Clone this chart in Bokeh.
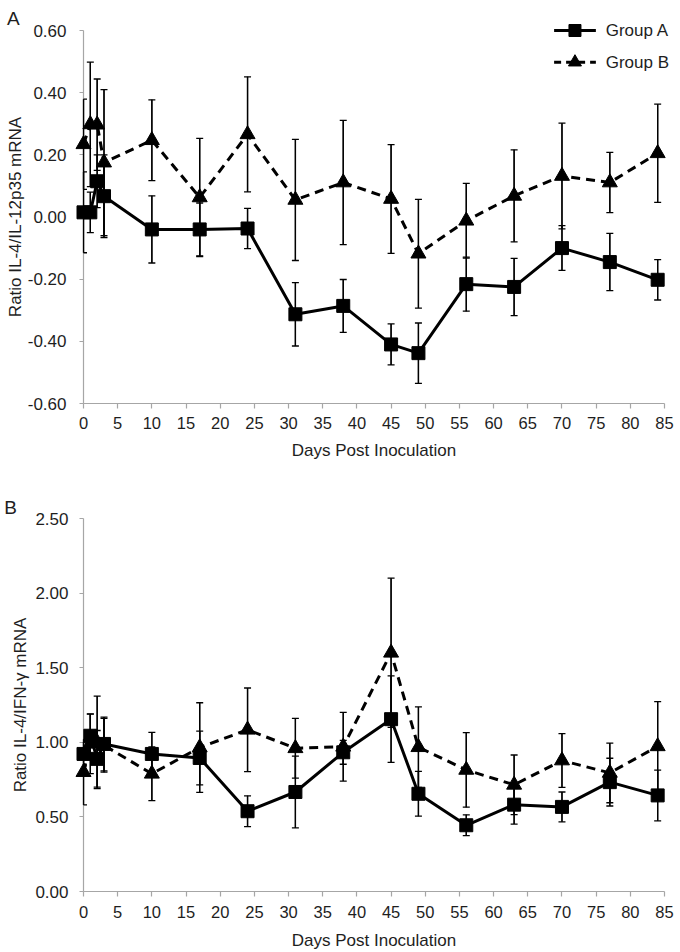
from bokeh.plotting import figure
from bokeh.models import (Range1d, FixedTicker, NumeralTickFormatter, Whisker, TeeHead,
                          ColumnDataSource)
from bokeh.core.properties import value
from bokeh.layouts import column
from bokeh.embed import file_html
from bokeh.resources import INLINE

# ---------------- data ----------------
days = [0, 1, 2, 3, 10, 17, 24, 31, 38, 45, 49, 56, 63, 70, 77, 84]

# Panel A: Ratio IL-4/IL-12p35 mRNA
a_group_a = [0.015, 0.015, 0.115, 0.067, -0.040, -0.040, -0.037, -0.313, -0.286, -0.410,
             -0.438, -0.216, -0.225, -0.100, -0.145, -0.202]
a_group_a_err = [0.13, 0.065, 0.085, 0.133, 0.108, 0.085, 0.065, 0.102, 0.085, 0.066,
                 0.097, 0.087, 0.092, 0.072, 0.092, 0.065]
a_group_b = [0.234, 0.298, 0.297, 0.175, 0.247, 0.063, 0.266, 0.055, 0.111, 0.058,
             -0.118, -0.012, 0.068, 0.132, 0.111, 0.205]
a_group_b_err = [0.145, 0.20, 0.147, 0.235, 0.13, 0.19, 0.185, 0.195, 0.20, 0.175,
                 0.175, 0.12, 0.148, 0.17, 0.097, 0.158]

# Panel B: Ratio IL-4/IFN-gamma mRNA
b_group_a = [0.922, 1.044, 0.889, 0.989, 0.922, 0.895, 0.538, 0.667, 0.933, 1.155,
             0.655, 0.444, 0.582, 0.567, 0.733, 0.644]
b_group_a_err = [0.08, 0.145, 0.19, 0.18, 0.145, 0.18, 0.103, 0.24, 0.08, 0.29,
                 0.15, 0.07, 0.13, 0.10, 0.16, 0.17]
b_group_b = [0.80, 0.99, 1.00, 0.98, 0.789, 0.965, 1.084, 0.96, 0.97, 1.60,
             0.967, 0.815, 0.715, 0.878, 0.795, 0.973]
b_group_b_err = [0.22, 0.20, 0.31, 0.18, 0.18, 0.30, 0.28, 0.20, 0.23, 0.50,
                 0.27, 0.25, 0.20, 0.18, 0.20, 0.30]

x_ticks = list(range(0, 90, 5))
a_y_ticks = [-0.6, -0.4, -0.2, 0.0, 0.2, 0.4, 0.6]
b_y_ticks = [0.0, 0.5, 1.0, 1.5, 2.0, 2.5]
legend_labels = ["Group A", "Group B"]

FONT = "Liberation Sans"
AXIS_GREY = "#a6a6a6"
TEXT = "#1e1e1e"


def style_axes(p, y_ticks, ylabel, y_lab_standoff, y_title_standoff,
               x_lab_standoff, x_title_standoff):
    p.xaxis.ticker = FixedTicker(ticks=x_ticks)
    p.yaxis.ticker = FixedTicker(ticks=y_ticks)
    p.yaxis.formatter = NumeralTickFormatter(format="0.00")
    p.xaxis.axis_label = "Days Post Inoculation"
    p.yaxis.axis_label = ylabel
    for ax in (p.xaxis, p.yaxis):
        ax.axis_line_color = AXIS_GREY
        ax.axis_line_width = 1.2
        ax.major_tick_line_color = AXIS_GREY
        ax.major_tick_line_width = 1.2
        ax.major_tick_in = 0
        ax.minor_tick_line_color = None
        ax.major_label_text_font = FONT
        ax.major_label_text_color = TEXT
        ax.axis_label_text_font = FONT
        ax.axis_label_text_font_style = "normal"
        ax.axis_label_text_color = TEXT
        ax.axis_label_text_font_size = "17px"
    p.xaxis.major_tick_out = 5
    p.yaxis.major_tick_out = 4
    p.xaxis.major_label_text_font_size = "16.5px"
    p.yaxis.major_label_text_font_size = "17px"
    p.xaxis.major_label_standoff = x_lab_standoff
    p.xaxis.axis_label_standoff = x_title_standoff
    p.yaxis.major_label_standoff = y_lab_standoff
    p.yaxis.axis_label_standoff = y_title_standoff
    p.xgrid.visible = False
    p.ygrid.visible = False
    p.outline_line_color = None


def add_series(p, ya, ya_err, yb, yb_err):
    src_a = ColumnDataSource(dict(x=days, y=ya,
                                  lo=[v - e for v, e in zip(ya, ya_err)],
                                  hi=[v + e for v, e in zip(ya, ya_err)]))
    src_b = ColumnDataSource(dict(x=days, y=yb,
                                  lo=[v - e for v, e in zip(yb, yb_err)],
                                  hi=[v + e for v, e in zip(yb, yb_err)]))
    for src in (src_b, src_a):
        p.segment(x0="x", y0="lo", x1="x", y1="hi", source=src, line_color="black",
                  line_width=1.3, level="overlay")
        w = Whisker(base="x", lower="lo", upper="hi", source=src, dimension="height",
                    line_color="black", line_width=1.3, level="annotation",
                    upper_head=TeeHead(size=7, line_color="black", line_width=1.3),
                    lower_head=TeeHead(size=7, line_color="black", line_width=1.3))
        p.add_layout(w)
    p.line("x", "y", source=src_b, line_color="black", line_width=3,
           line_dash="9 6", level="overlay")
    p.scatter("x", "y", source=src_b, marker="triangle", size=15,
              fill_color="black", line_color="black", level="overlay")
    p.line("x", "y", source=src_a, line_color="black", line_width=3, level="overlay")
    p.scatter("x", "y", source=src_a, marker="square", size=13,
              fill_color="black", line_color="black", level="overlay")


# ---------------- Panel A ----------------
pA = figure(width=680, height=462, output_backend="svg", toolbar_location=None,
            x_range=Range1d(0, 85), y_range=Range1d(-0.6, 0.6),
            min_border_left=80, min_border_right=16, min_border_top=30, min_border_bottom=57,
            background_fill_color="white", border_fill_color="white")
style_axes(pA, a_y_ticks, "Ratio IL-4/IL-12p35 mRNA", 13, 0, 8, 9)
add_series(pA, a_group_a, a_group_a_err, a_group_b, a_group_b_err)

# legend key (drawn as unclipped overlay glyphs, top-right of panel A)
pA.line(x=[68.85, 74.96], y=[0.600, 0.600], line_color="black", line_width=3, level="overlay")
pA.scatter(x=[71.9], y=[0.600], marker="square", size=12, fill_color="black",
           line_color="black", level="overlay")
pA.line(x=[68.85, 74.96], y=[0.498, 0.498], line_color="black", line_width=3,
        line_dash="7 5", level="overlay")
pA.scatter(x=[71.9], y=[0.498], marker="triangle", size=13, fill_color="black",
           line_color="black", level="overlay")
pA.text(x=[76.4, 76.4], y=[0.600, 0.498], text=legend_labels, text_baseline="middle",
        text_align="left", text_font=value(FONT), text_font_size="17px",
        text_color=TEXT, level="overlay")
pA.text(x=[-11.2], y=[0.638], text=["A"], text_baseline="alphabetic", text_align="left",
        text_font=value(FONT), text_font_size="19px", text_color=TEXT, level="overlay")

# ---------------- Panel B ----------------
pB = figure(width=680, height=490, output_backend="svg", toolbar_location=None,
            x_range=Range1d(0, 85), y_range=Range1d(0, 2.5),
            min_border_left=83, min_border_right=11, min_border_top=56, min_border_bottom=59,
            background_fill_color="white", border_fill_color="white")
style_axes(pB, b_y_ticks, "Ratio IL-4/IFN-\u03b3 mRNA", 11, 2, 9, 10)
add_series(pB, b_group_a, b_group_a_err, b_group_b, b_group_b_err)
pB.text(x=[-11.6], y=[2.573], text=["B"], text_baseline="alphabetic", text_align="left",
        text_font=value(FONT), text_font_size="19px", text_color=TEXT, level="overlay")

layout = column(pA, pB, spacing=0)
open("out.html", "w").write(file_html(layout, INLINE))
